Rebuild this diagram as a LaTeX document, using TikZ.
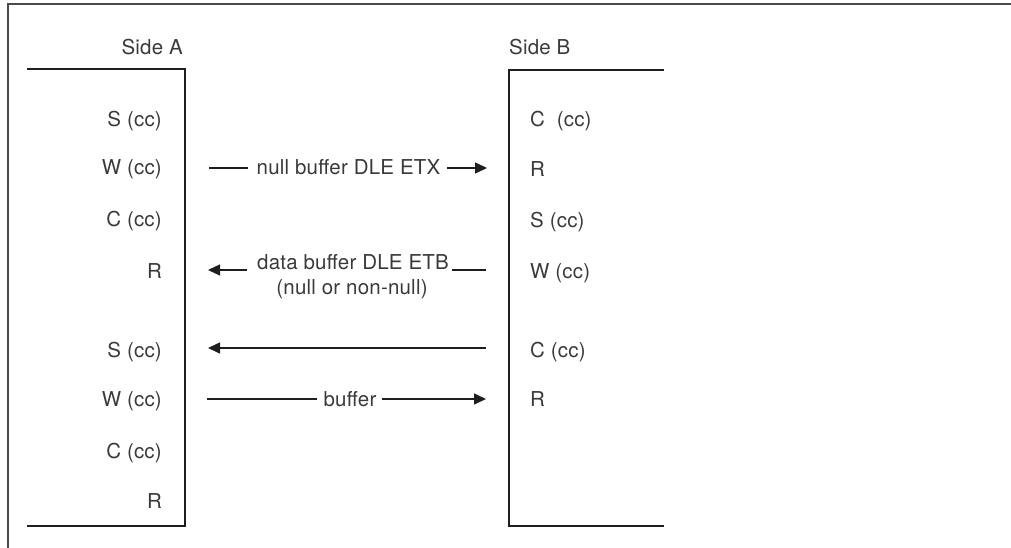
\documentclass[tikz,border=0pt]{standalone}
\usepackage{fontspec}
\setmainfont{TeX Gyre Heros}[LetterSpace=1]
\usetikzlibrary{arrows.meta}
\definecolor{ink}{HTML}{1E1E1E}
\definecolor{txt}{HTML}{3A3A3A}
\definecolor{framec}{HTML}{4A4A4A}
\begin{document}
\begin{tikzpicture}[x=1pt,y=-1pt,
  lbl/.style={inner sep=0pt, text=txt, font=\fontsize{20.5}{24}\selectfont},
  bracket/.style={draw=ink, line width=2pt},
  msg/.style={draw=ink, line width=1.4pt},
  tip/.style={-{Triangle[length=12pt,width=11pt]}},
  framel/.style={draw=framec, line width=2pt}]
\useasboundingbox (0,0) rectangle (1011,548);
% outer frame
\coordinate (F1) at (8,548);
\coordinate (F2) at (8,4);
\coordinate (F3) at (1011,4);
\draw[framel] (F1) -- (F2) -- (F3);
% side A bracket
\coordinate (A1) at (27,69);
\coordinate (A2) at (185,69);
\coordinate (A3) at (185,526);
\coordinate (A4) at (27,526);
\draw[bracket] (A1) -- (A2) -- (A3) -- (A4);
% side B bracket
\coordinate (B1) at (664,70);
\coordinate (B2) at (509,70);
\coordinate (B3) at (509,526);
\coordinate (B4) at (664,526);
\draw[bracket] (B1) -- (B2) -- (B3) -- (B4);
% titles
\node[lbl, anchor=base east] (sideA) at (183,55) {Side A};
\node[lbl, anchor=base west] (sideB) at (509,55) {Side B};
% side A states
\node[lbl, anchor=base east] (a1) at (162,127) {S (cc)};
\node[lbl, anchor=base east] (a2) at (162,175) {W (cc)};
\node[lbl, anchor=base east] (a3) at (162,226) {C (cc)};
\node[lbl, anchor=base east] (a4) at (162,278) {R};
\node[lbl, anchor=base east] (a5) at (162,357) {S (cc)};
\node[lbl, anchor=base east] (a6) at (162,406) {W (cc)};
\node[lbl, anchor=base east] (a7) at (162,458) {C (cc)};
\node[lbl, anchor=base east] (a8) at (162,508) {R};
% side B states
\node[lbl, anchor=base west] (b1) at (530,127) {C~ (cc)};
\node[lbl, anchor=base west] (b2) at (530,176) {R};
\node[lbl, anchor=base west] (b3) at (530,227) {S (cc)};
\node[lbl, anchor=base west] (b4) at (530,278) {W (cc)};
\node[lbl, anchor=base west] (b5) at (530,357) {C (cc)};
\node[lbl, anchor=base west] (b6) at (530,406) {R};
% message 1
\node[lbl, anchor=base] (m1) at (348.5,175) {null buffer DLE ETX};
\coordinate (m1s) at (209,168);
\coordinate (m1a) at (248,168);
\coordinate (m1b) at (447,168);
\coordinate (m1e) at (487,168);
\draw[msg] (m1s) -- (m1a);
\draw[msg,tip] (m1b) -- (m1e);
% message 2
\node[lbl, anchor=base] (m2) at (353,269) {data buffer DLE ETB};
\node[lbl, anchor=base] (m2n) at (352,294) {(null or non-null)};
\coordinate (m2a) at (247,270);
\coordinate (m2t) at (208,270);
\coordinate (m2b) at (452,270);
\coordinate (m2e) at (486,270);
\draw[msg,tip] (m2a) -- (m2t);
\draw[msg] (m2b) -- (m2e);
% message 3
\coordinate (m3s) at (486,348);
\coordinate (m3e) at (208,348);
\draw[msg,tip] (m3s) -- (m3e);
% message 4
\node[lbl, anchor=base] (m4) at (350,406) {buffer};
\coordinate (m4s) at (207,399);
\coordinate (m4a) at (317,399);
\coordinate (m4b) at (382,399);
\coordinate (m4e) at (486,399);
\draw[msg] (m4s) -- (m4a);
\draw[msg,tip] (m4b) -- (m4e);
\end{tikzpicture}
\end{document}
